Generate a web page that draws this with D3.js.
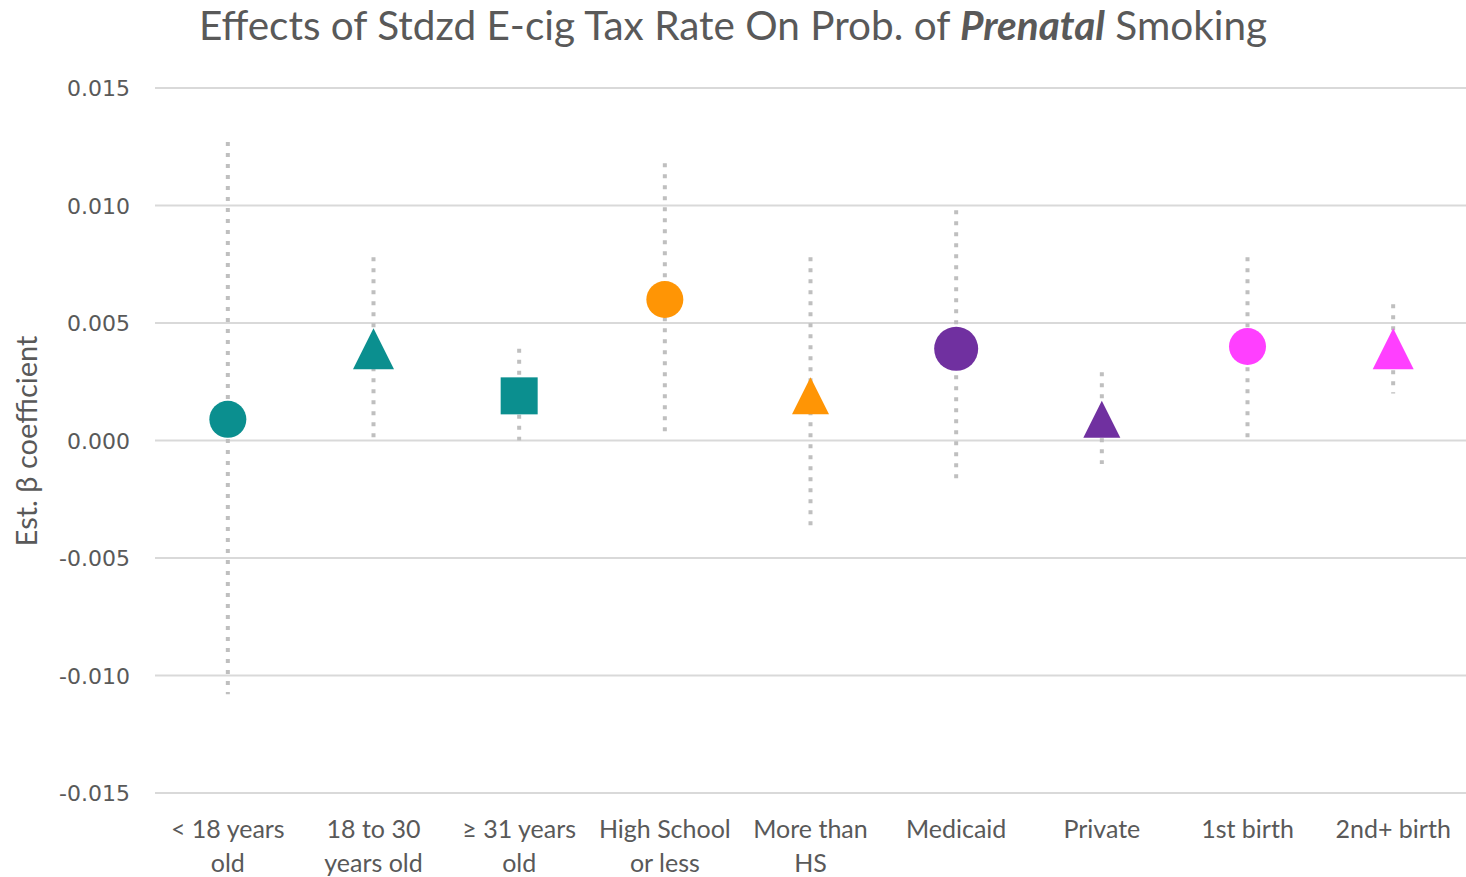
<!DOCTYPE html>
<html>
<head>
<meta charset="utf-8">
<script src="https://cdn.jsdelivr.net/npm/d3@7"></script>
<style>
  html, body { margin: 0; padding: 0; background: #ffffff; }
  svg { display: block; }
</style>
</head>
<body>
<svg id="chart" width="1466" height="877"></svg>
<script>
// ---- data ----
const categories = ["< 18 years old", "18 to 30 years old", "≥ 31 years old", "High School or less",
  "More than HS", "Medicaid", "Private", "1st birth", "2nd+ birth"];
const categoryLines = [["< 18 years", "old"], ["18 to 30", "years old"], ["≥ 31 years", "old"],
  ["High School", "or less"], ["More than", "HS"], ["Medicaid"], ["Private"], ["1st birth"], ["2nd+ birth"]];
const estimates = [0.0009, 0.0039, 0.0019, 0.0060, 0.0019, 0.0039, 0.0009, 0.0040, 0.0039];
const ciLower = [-0.0108, 0.0000, 0.0000, 0.0001, -0.0039, -0.0019, -0.0010, 0.0000, 0.0020];
const ciUpper = [0.0127, 0.0078, 0.0039, 0.0118, 0.0078, 0.0098, 0.0029, 0.0078, 0.0058];
const yTicks = [0.015, 0.010, 0.005, 0.000, -0.005, -0.010, -0.015];

// ---- marker styles (separate from data) ----
const markerShape = ["circle", "triangle", "square", "circle", "triangle", "circle", "triangle", "circle", "triangle"];
const markerColor = ["#0b8f8f", "#0b8f8f", "#0b8f8f", "#ff9505", "#ff9505", "#7030a0", "#7030a0", "#ff3fff", "#ff3fff"];
const markerSize = [37, 41, 37, 37, 37, 44, 37, 37, 41];

const svg = d3.select("#chart");
const plotLeft = 155, plotRight = 1466, plotTop = 88, plotBottom = 793;

const x = d3.scaleBand().domain(categories).range([plotLeft, plotRight]).padding(0);
const y = d3.scaleLinear().domain([-0.015, 0.015]).range([plotBottom, plotTop]);

// gridlines
svg.append("g").selectAll("line").data(yTicks).join("line")
  .attr("x1", plotLeft).attr("x2", plotRight)
  .attr("y1", d => y(d)).attr("y2", d => y(d))
  .attr("stroke", "#d9d9d9").attr("stroke-width", 2);

// y axis labels
const fmt = d => (d < 0 ? "-" : "") + Math.abs(d).toFixed(3);
const yAxis = d3.axisLeft(y).tickValues(yTicks).tickFormat(fmt).tickSize(0).tickPadding(0);
const yg = svg.append("g").attr("transform", `translate(130,0)`).call(yAxis);
yg.select(".domain").remove();
yg.selectAll("text").attr("fill", "#595959").style("font-family", "'DejaVu Sans', sans-serif")
  .style("font-size", "22px").attr("dy", "0.35em");

// x labels
const xg = svg.append("g");
categories.forEach((c, i) => {
  const t = xg.append("text").attr("x", x(c) + x.bandwidth() / 2).attr("y", 838)
    .attr("text-anchor", "middle").attr("fill", "#595959")
    .style("font-family", "Lato, 'Open Sans', sans-serif").style("font-size", "25px");
  categoryLines[i].forEach((ln, j) => {
    t.append("tspan").attr("x", x(c) + x.bandwidth() / 2).attr("dy", j === 0 ? 0 : 34).text(ln);
  });
});

// CI lines
svg.append("g").selectAll("line").data(categories).join("line")
  .attr("x1", d => x(d) + x.bandwidth() / 2).attr("x2", d => x(d) + x.bandwidth() / 2)
  .attr("y1", (d, i) => y(ciUpper[i])).attr("y2", (d, i) => y(ciLower[i]))
  .attr("stroke", "#bfbfbf").attr("stroke-width", 4).attr("stroke-dasharray", "4,7");

// markers
const mg = svg.append("g");
categories.forEach((c, i) => {
  const cx = x(c) + x.bandwidth() / 2, cy = y(estimates[i]), s = markerSize[i];
  if (markerShape[i] === "circle") {
    mg.append("circle").attr("cx", cx).attr("cy", cy).attr("r", s / 2).attr("fill", markerColor[i]);
  } else if (markerShape[i] === "square") {
    mg.append("rect").attr("x", cx - s / 2).attr("y", cy - s / 2).attr("width", s).attr("height", s).attr("fill", markerColor[i]);
  } else {
    const h = s;
    mg.append("path").attr("d", `M${cx},${cy - h / 2}L${cx + s / 2},${cy + h / 2}L${cx - s / 2},${cy + h / 2}Z`)
      .attr("fill", markerColor[i]);
  }
});

// title
const title = svg.append("text").attr("x", 733).attr("y", 40).attr("text-anchor", "middle")
  .attr("fill", "#595959").style("font-family", "Lato, 'Open Sans', sans-serif").style("font-size", "40.5px");
title.append("tspan").text("Effects of Stdzd E-cig Tax Rate On Prob. of ");
title.append("tspan").style("font-weight", "bold").style("font-style", "italic").text("Prenatal");
title.append("tspan").text(" Smoking");

// y axis title
svg.append("text").attr("transform", "translate(37,441) rotate(-90)").attr("text-anchor", "middle")
  .attr("fill", "#595959").style("font-family", "Lato, 'Open Sans', sans-serif").style("font-size", "29px")
  .text("Est. β coefficient");
</script>
</body>
</html>
